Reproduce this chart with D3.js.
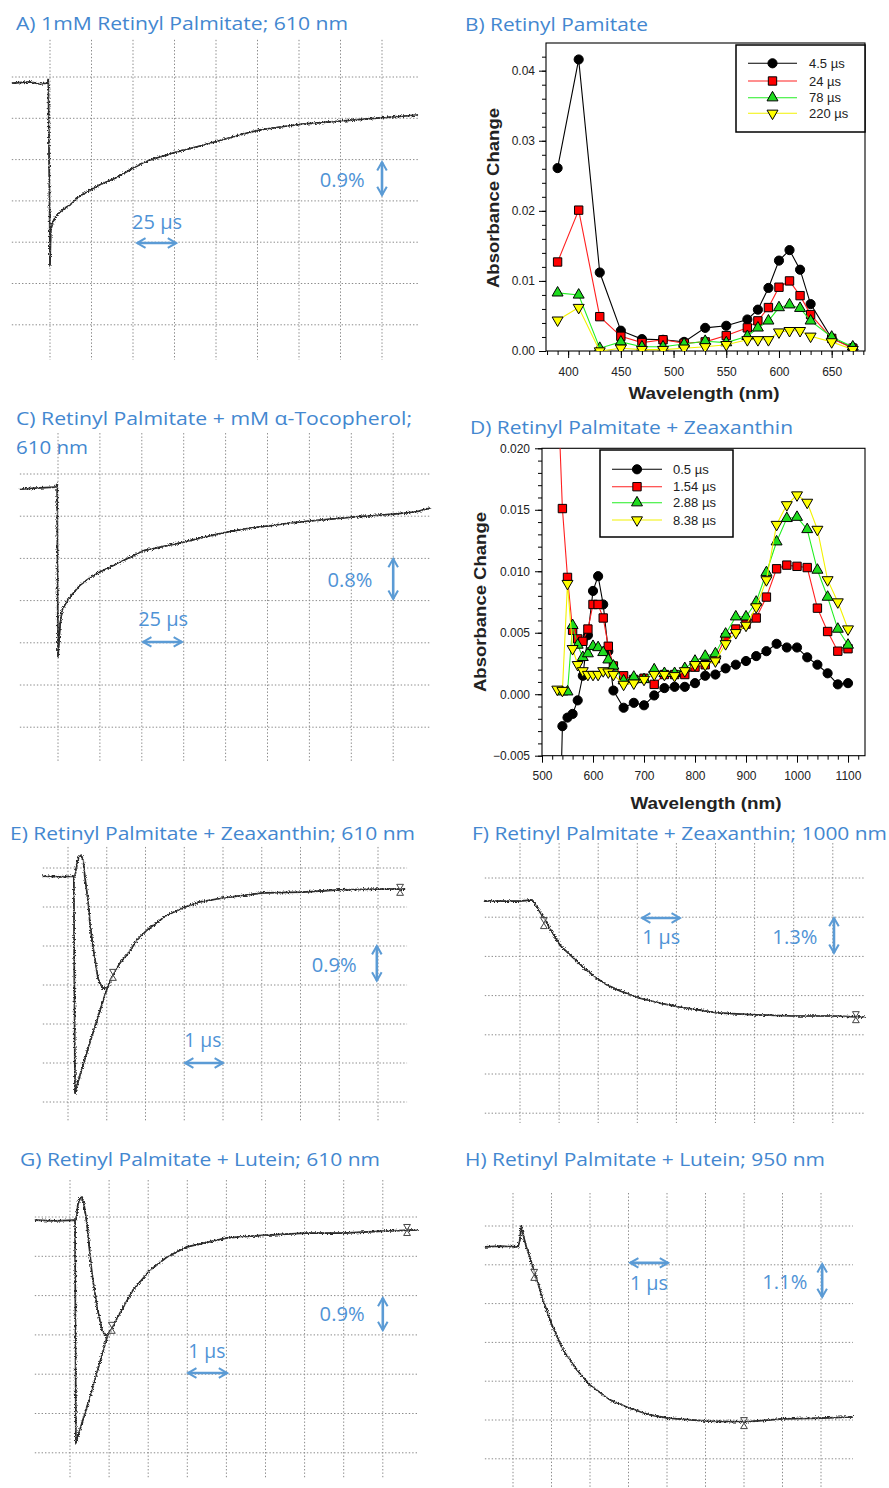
<!DOCTYPE html>
<html><head><meta charset="utf-8">
<script src="https://cdn.jsdelivr.net/npm/d3@7/dist/d3.min.js"></script>
<style>html,body{margin:0;padding:0;background:#fff;} svg{display:block;}</style>
</head><body>
<svg id="fig" width="889" height="1488"></svg>
<script>
// ================= DATA =================
// Panel B: Retinyl Palmitate spectra
const wlB  = [390,410,430,450,470,490,510,530,550,570,580,590,600,610,620,630,650,670];
const b45  = [0.0261,0.0416,0.0112,0.0029,0.0017,0.0016,0.0013,0.0033,0.0036,0.0045,0.0059,0.0090,0.0129,0.0144,0.0116,0.0067,0.0018,0.0005];
const b24  = [0.0127,0.0201,0.0049,0.0021,0.0012,0.0016,0.0011,0.0013,0.0022,0.0033,0.0043,0.0062,0.0091,0.0100,0.0079,0.0052,0.0018,0.0004];
const b78  = [0.0083,0.0080,0.0004,0.0013,0.0006,0.0006,0.0010,0.0014,0.0012,0.0021,0.0033,0.0043,0.0062,0.0066,0.0061,0.0043,0.0020,0.0006];
const b220 = [0.0044,0.0062,0.0000,0.0004,0.0002,0.0002,0.0004,0.0006,0.0009,0.0016,0.0016,0.0016,0.0027,0.0029,0.0029,0.0021,0.0013,0.0002];
const legendB = ["4.5 µs","24 µs","78 µs","220 µs"];
const yTicksB = [0,0.01,0.02,0.03,0.04];
const xTicksB = [400,450,500,550,600,650];

// Panel D: Retinyl Palmitate + Zeaxanthin spectra
const wlD  = [530,540,550,560,570,580,590,600,610,620,630,640,660,680,700,720,740,760,780,800,820,840,860,880,900,920,940,960,980,1000,1020,1040,1060,1080,1100];
const d05  = [-0.020,-0.0026,-0.0019,-0.0016,-0.0005,0.0015,0.0048,0.0084,0.0096,0.0073,0.0035,0.0003,-0.0011,-0.0007,-0.0009,-0.0001,0.0005,0.0006,0.0006,0.0009,0.0015,0.0016,0.0021,0.0024,0.0027,0.0031,0.0035,0.0041,0.0038,0.0038,0.0030,0.0024,0.0017,0.0008,0.0009];
const d154 = [0.026,0.0151,0.0095,0.0052,0.0045,0.0043,0.0053,0.0073,0.0073,0.0062,0.0039,0.0023,0.0015,0.0012,0.0013,0.0008,0.0016,0.0016,0.0016,0.0022,0.0024,0.0029,0.0046,0.0053,0.0057,0.0062,0.0079,0.0102,0.0105,0.0104,0.0103,0.0070,0.0051,0.0035,0.0037];
const d288 = [null,0.0002,0.0002,0.0056,0.0040,0.0030,0.0033,0.0039,0.0038,0.0034,0.0028,0.0023,0.0011,0.0014,0.0012,0.0020,0.0017,0.0017,0.0021,0.0027,0.0031,0.0033,0.0049,0.0063,0.0063,0.0075,0.0099,0.0124,0.0143,0.0144,0.0134,0.0101,0.0079,0.0053,0.0040];
const d838 = [0.0004,0.0003,0.0090,0.0037,0.0024,0.0019,0.0016,0.0016,0.0016,0.0019,0.0018,0.0016,0.0008,0.0009,0.0012,0.0016,0.0016,0.0015,0.0019,0.0024,0.0024,0.0027,0.0041,0.0050,0.0056,0.0071,0.0093,0.0138,0.0154,0.0162,0.0156,0.0134,0.0093,0.0075,0.0053];
const legendD = ["0.5 µs","1.54 µs","2.88 µs","8.38 µs"];
const yTicksD = [-0.005,0,0.005,0.010,0.015,0.020];
const xTicksD = [500,600,700,800,900,1000,1100];

// Oscilloscope traces (time and signal in grid divisions; signal measured downward from top grid line)
const traceA_t = [-0.92,-0.48,-0.24,-0.07,-0.04,-0.01,0.00,0.02,0.07,0.14,0.24,0.36,0.48,0.72,0.96,1.20,1.57,2.05,2.41,3.04,3.61,4.05,4.58,5.06,5.54,6.07,6.99,7.95,8.87];
const traceA_v = [0.15,0.12,0.17,0.15,0.05,3.22,4.55,3.70,3.51,3.37,3.27,3.17,3.10,2.88,2.74,2.61,2.45,2.18,2.01,1.82,1.67,1.55,1.40,1.28,1.21,1.14,1.07,0.99,0.92];
const traceC_t = [-0.91,-0.43,-0.07,-0.02,-0.01,0.00,0.05,0.10,0.19,0.29,0.53,0.76,1.00,1.48,2.03,2.55,3.03,3.51,4.06,4.58,5.04,5.54,6.06,7.02,8.00,8.52,8.88];
const traceC_v = [0.36,0.33,0.31,0.24,2.75,4.34,3.58,3.22,3.06,2.91,2.63,2.46,2.32,2.09,1.82,1.71,1.61,1.49,1.37,1.28,1.23,1.16,1.11,1.02,0.95,0.90,0.81];
const traceE1_t = [-0.65,-0.21,0.15,0.18,0.31,0.57,0.83,1.01,1.16,1.34,1.52,1.78,2.04,2.55,3.02,3.41,4.00,5.03,6.04,7.02,8.00,8.70];
const traceE1_v = [0.21,0.23,0.21,5.77,5.31,4.46,3.64,3.08,2.74,2.44,2.23,1.85,1.59,1.21,1.00,0.87,0.77,0.64,0.62,0.56,0.54,0.54];
const traceE2_t = [0.18,0.23,0.28,0.34,0.39,0.44,0.52,0.57,0.65,0.72,0.77,0.85,0.90,1.01];
const traceE2_v = [0.21,-0.10,-0.28,-0.33,-0.21,0.26,0.87,1.46,2.05,2.49,2.82,3.00,3.08,3.08];
const traceF_t = [-0.90,-0.51,0.00,0.31,0.38,0.51,0.64,0.82,1.02,1.28,1.61,1.92,2.23,2.56,3.04,3.58,4.07,4.60,5.06,6.01,6.98,8.01,8.82];
const traceF_v = [0.59,0.59,0.59,0.56,0.64,0.87,1.07,1.38,1.71,1.96,2.27,2.53,2.73,2.88,3.06,3.19,3.29,3.37,3.44,3.49,3.52,3.52,3.55];
const traceG1_t = [-0.90,-0.38,0.13,0.15,0.51,0.95,1.28,1.61,2.05,2.48,2.99,4.02,5.04,6.01,6.98,8.01,8.90];
const traceG1_v = [0.08,0.10,0.08,5.75,4.58,3.05,2.44,1.86,1.35,1.02,0.76,0.53,0.46,0.41,0.41,0.36,0.33];
const traceG2_t = [0.15,0.20,0.26,0.31,0.36,0.43,0.56,0.69,0.82,0.95];
const traceG2_v = [0.08,-0.31,-0.48,-0.51,-0.31,0.15,1.42,2.29,2.88,3.05];
const traceH_t = [-0.73,-0.34,0.13,0.18,0.21,0.26,0.34,0.39,0.57,0.78,1.01,1.30,1.66,2.00,2.52,3.01,3.56,4.03,5.04,6.03,6.99,8.00,8.83];
const traceH_v = [0.54,0.52,0.54,0.36,0.00,0.21,0.52,0.67,1.21,1.91,2.55,3.20,3.71,4.10,4.48,4.69,4.87,4.95,5.03,5.05,4.97,4.95,4.92];
// cursor markers
const cursE_t = [1.16,8.57], cursE_v = [2.74,0.56];
const cursF_t = [0.61,8.59], cursF_v = [1.15,3.55];
const cursG_t = [1.07,8.62], cursG_v = [2.82,0.33];
const cursH_t = [0.55,6.00], cursH_v = [1.26,5.08];

// ================= DRAWING =================
const svg = d3.select("#fig");
const defs = svg.append("defs");
const flt = defs.append("filter").attr("id","jit").attr("filterUnits","userSpaceOnUse")
  .attr("x",0).attr("y",0).attr("width",889).attr("height",1488);
flt.append("feTurbulence").attr("type","fractalNoise").attr("baseFrequency","0.85").attr("numOctaves",2).attr("seed",4).attr("result","n");
flt.append("feDisplacementMap").attr("in","SourceGraphic").attr("in2","n").attr("scale",4.2)
  .attr("xChannelSelector","R").attr("yChannelSelector","G");
const mk = defs.append("marker").attr("id","ah").attr("viewBox","0 0 10 10").attr("refX",8.5).attr("refY",5)
  .attr("markerWidth",4.6).attr("markerHeight",4.6).attr("orient","auto-start-reverse");
mk.append("path").attr("d","M1.5,1 L8.5,5 L1.5,9").attr("fill","none").attr("stroke","#5b9bd5").attr("stroke-width",1.7);

const TITLE_FONT = "'Open Sans', Lato, sans-serif";
const TITLE_COL = "#4387d0";
const ANN_COL = "#4f93d6";
const ARROW_COL = "#5b9bd5";
const AX_FONT = "'Liberation Sans', Arial, sans-serif";

function title(txt,x,y,w){
  svg.append("text").attr("x",x).attr("y",y).attr("font-family",TITLE_FONT).attr("font-size",19)
    .attr("fill",TITLE_COL).attr("textLength",w).attr("lengthAdjust","spacingAndGlyphs").text(txt);
}

// ---------- scope panels ----------
const scopes = [
 {titles:[["A) 1mM Retinyl Palmitate; 610 nm",16,30,332]], x0:50,dx:41.5,y0:77,dy:41.3, xl:-0.92,xr:8.87,yt:-0.90,yb:6.85,
  traces:[[traceA_t,traceA_v]], curs:null,
  h:{t1:2.1,t2:3.04,v:4.02,lab:"25 µs",lt:2.58,lv:3.51,lw:50}, vv:{t:8.0,v1:2.06,v2:2.86,lab:"0.9%",lt:7.04,lv:2.49,lw:45}},
 {titles:[["C) Retinyl Palmitate + mM α-Tocopherol;",16,425,396],["610 nm",16,454,72]], x0:58,dx:41.9,y0:474,dy:42.2, xl:-0.91,xr:8.88,yt:-0.97,yb:6.82,
  traces:[[traceC_t,traceC_v]], curs:null,
  h:{t1:2.03,t2:2.96,v:3.98,lab:"25 µs",lt:2.51,lv:3.44,lw:50}, vv:{t:8.0,v1:2.01,v2:2.96,lab:"0.8%",lt:6.97,lv:2.51,lw:45}},
 {titles:[["E) Retinyl Palmitate + Zeaxanthin; 610 nm",10,840,405]], x0:68,dx:38.75,y0:868,dy:39, xl:-0.65,xr:8.75,yt:-0.54,yb:6.51,
  traces:[[traceE1_t,traceE1_v],[traceE2_t,traceE2_v]], curs:[cursE_t,cursE_v],
  h:{t1:3.02,t2:4.0,v:5.0,lab:"1 µs",lt:3.48,lv:4.41,lw:37}, vv:{t:7.97,v1:2.0,v2:2.89,lab:"0.9%",lt:6.87,lv:2.49,lw:45}},
 {titles:[["F) Retinyl Palmitate + Zeaxanthin; 1000 nm",472,840,415]], x0:520,dx:39.1,y0:878,dy:39.2, xl:-0.90,xr:8.82,yt:-0.89,yb:6.25,
  traces:[[traceF_t,traceF_v]], curs:[cursF_t,cursF_v],
  h:{t1:3.12,t2:4.09,v:1.02,lab:"1 µs",lt:3.61,lv:1.5,lw:38}, vv:{t:8.03,v1:1.02,v2:1.91,lab:"1.3%",lt:7.03,lv:1.5,lw:45}},
 {titles:[["G) Retinyl Palmitate + Lutein; 610 nm",20,1166,360]], x0:70,dx:39.1,y0:1217,dy:39.3, xl:-0.90,xr:8.90,yt:-0.94,yb:6.64,
  traces:[[traceG1_t,traceG1_v],[traceG2_t,traceG2_v]], curs:[cursG_t,cursG_v],
  h:{t1:3.02,t2:4.02,v:3.97,lab:"1 µs",lt:3.5,lv:3.41,lw:37}, vv:{t:8.0,v1:2.06,v2:2.88,lab:"0.9%",lt:6.96,lv:2.47,lw:45}},
 {titles:[["H) Retinyl Palmitate + Lutein; 950 nm",465,1166,360]], x0:513,dx:38.5,y0:1226,dy:38.8, xl:-0.73,xr:8.83,yt:-0.85,yb:6.75,
  traces:[[traceH_t,traceH_v]], curs:[cursH_t,cursH_v],
  h:{t1:3.04,t2:4.03,v:0.95,lab:"1 µs",lt:3.53,lv:1.47,lw:38}, vv:{t:8.03,v1:0.98,v2:1.83,lab:"1.1%",lt:7.06,lv:1.44,lw:45}}
];

scopes.forEach(cfg=>{
  cfg.titles.forEach(t=>title(...t));
  const g = svg.append("g");
  const x = d3.scaleLinear().domain([0,8]).range([cfg.x0,cfg.x0+8*cfg.dx]);
  const y = d3.scaleLinear().domain([0,6]).range([cfg.y0,cfg.y0+6*cfg.dy]);
  const gridStyle = s=>s.attr("stroke","#8a8a8a").attr("stroke-width",1).attr("stroke-dasharray","1.4 2");
  g.selectAll(".vg").data(d3.range(9)).join("line")
    .attr("x1",d=>x(d)).attr("x2",d=>x(d)).attr("y1",y(cfg.yt)).attr("y2",y(cfg.yb)).call(gridStyle);
  g.selectAll(".hg").data(d3.range(7)).join("line")
    .attr("y1",d=>y(d)).attr("y2",d=>y(d)).attr("x1",x(cfg.xl)).attr("x2",x(cfg.xr)).call(gridStyle);
  const line = d3.line().x(d=>x(d[0])).y(d=>y(d[1]));
  cfg.traces.forEach(([ts,vs])=>{
    const pts = ts.map((t,i)=>[t,vs[i]]);
    g.append("path").attr("d",line(pts)).attr("fill","none").attr("stroke","#555").attr("stroke-width",1);
    g.append("path").attr("d",line(pts)).attr("fill","none").attr("stroke","#2a2a2a").attr("stroke-width",1.7)
      .attr("stroke-linejoin","round").attr("filter","url(#jit)");
  });
  if(cfg.curs){
    const [ct,cv] = cfg.curs;
    ct.forEach((t,i)=>{
      const cx=x(t), cy=y(cv[i]), s=3.4, h=5.5;
      g.append("path").attr("d",`M${cx-s},${cy-h}L${cx+s},${cy-h}L${cx},${cy}Z M${cx},${cy}L${cx+s},${cy+h}L${cx-s},${cy+h}Z`)
        .attr("fill","#fff").attr("fill-opacity",0.6).attr("stroke","#444").attr("stroke-width",1);
    });
  }
  // scale annotations
  const h = cfg.h, vv = cfg.vv;
  g.append("line").attr("x1",x(h.t1)).attr("x2",x(h.t2)).attr("y1",y(h.v)).attr("y2",y(h.v))
    .attr("stroke",ARROW_COL).attr("stroke-width",2.6).attr("marker-start","url(#ah)").attr("marker-end","url(#ah)");
  g.append("line").attr("x1",x(vv.t)).attr("x2",x(vv.t)).attr("y1",y(vv.v1)).attr("y2",y(vv.v2))
    .attr("stroke",ARROW_COL).attr("stroke-width",2.6).attr("marker-start","url(#ah)").attr("marker-end","url(#ah)");
  [[h.lab,h.lt,h.lv,h.lw],[vv.lab,vv.lt,vv.lv,vv.lw]].forEach(([lab,lt,lv,lw])=>{
    g.append("text").attr("x",x(lt)).attr("y",y(lv)+7).attr("text-anchor","middle")
      .attr("font-family",TITLE_FONT).attr("font-size",20).attr("fill",ANN_COL)
      .attr("textLength",lw).attr("lengthAdjust","spacingAndGlyphs").text(lab);
  });
});

// ---------- spectra panels ----------
function spectrum(o){
  title(...o.title);
  const g = svg.append("g");
  const x = d3.scaleLinear().domain(o.xd).range([o.L,o.R]);
  const y = d3.scaleLinear().domain(o.yd).range([o.B,o.T]);
  const cid = "clip"+o.id;
  defs.append("clipPath").attr("id",cid).append("rect").attr("x",o.L).attr("y",o.T).attr("width",o.R-o.L).attr("height",o.B-o.T);
  g.append("g").attr("transform",`translate(0,${o.B})`)
    .call(d3.axisBottom(x).tickValues(o.xTicks).tickSize(7).tickPadding(9).tickFormat(d3.format("d")));
  g.append("g").attr("transform",`translate(0,${o.B})`)
    .call(d3.axisBottom(x).tickValues(d3.range(o.xMinor[0],o.xMinor[1]+0.01,o.xMinor[2])).tickSize(4).tickFormat(""));
  g.append("g").attr("transform",`translate(${o.L},0)`)
    .call(d3.axisLeft(y).tickValues(o.yTicks).tickSize(7).tickPadding(o.yPad).tickFormat(d3.format(o.yFmt)));
  g.append("g").attr("transform",`translate(${o.L},0)`)
    .call(d3.axisLeft(y).tickValues(d3.range(o.yMinor[0],o.yMinor[1]+1e-9,o.yMinor[2])).tickSize(4).tickFormat(""));
  g.selectAll(".domain").remove();
  g.selectAll(".tick line").attr("stroke","#000").attr("stroke-width",1);
  g.selectAll(".tick text").attr("font-family",AX_FONT).attr("font-size",12).attr("fill","#222");
  g.append("rect").attr("x",o.L).attr("y",o.T).attr("width",o.R-o.L).attr("height",o.B-o.T)
    .attr("fill","none").attr("stroke","#000").attr("stroke-width",1.1);
  g.append("text").attr("transform",`translate(${o.ytx},${o.yty}) rotate(-90)`).attr("text-anchor","middle")
    .attr("font-family",AX_FONT).attr("font-weight","bold").attr("font-size",17).attr("fill","#222")
    .attr("textLength",180).attr("lengthAdjust","spacingAndGlyphs").text("Absorbance Change");
  g.append("text").attr("x",o.xtx).attr("y",o.xty).attr("text-anchor","middle")
    .attr("font-family",AX_FONT).attr("font-weight","bold").attr("font-size",17).attr("fill","#222")
    .attr("textLength",151).attr("lengthAdjust","spacingAndGlyphs").text("Wavelength (nm)");
  const plot = g.append("g").attr("clip-path",`url(#${cid})`);
  o.series.forEach(s=>{
    const pts = o.wl.map((w,i)=>[w,s.vals[i]]).filter(d=>d[1]!==null);
    plot.append("path").attr("d",d3.line().x(d=>x(d[0])).y(d=>y(d[1]))(pts))
      .attr("fill","none").attr("stroke",s.line).attr("stroke-width",1.1);
    plot.selectAll(null).data(pts).join("path")
      .attr("d",d3.symbol().type(s.sym).size(s.size)())
      .attr("transform",d=>`translate(${x(d[0])},${y(d[1])}) rotate(${s.rot})`)
      .attr("fill",s.fill).attr("stroke","#000").attr("stroke-width",1);
  });
  const lg = g.append("g");
  lg.append("rect").attr("x",o.lg.x).attr("y",o.lg.y).attr("width",o.lg.w).attr("height",o.lg.h)
    .attr("fill","#fff").attr("stroke","#000").attr("stroke-width",1.5);
  o.series.forEach((s,i)=>{
    const yy = o.lg.rows[i];
    lg.append("line").attr("x1",o.lg.l1).attr("x2",o.lg.l2).attr("y1",yy).attr("y2",yy).attr("stroke",s.line).attr("stroke-width",1.1);
    lg.append("path").attr("d",d3.symbol().type(s.sym).size(s.size)())
      .attr("transform",`translate(${(o.lg.l1+o.lg.l2)/2},${yy}) rotate(${s.rot})`)
      .attr("fill",s.fill).attr("stroke","#000").attr("stroke-width",1);
    lg.append("text").attr("x",o.lg.tx).attr("y",yy+4.5).attr("font-family",AX_FONT).attr("font-size",13)
      .attr("fill","#222").text(o.labels[i]);
  });
}

const styleSet = [
  {line:"#000000", fill:"#000000", sym:d3.symbolCircle, size:66, rot:0},
  {line:"#ff2020", fill:"#ff0000", sym:d3.symbolSquare, size:70, rot:0},
  {line:"#22ee22", fill:"#1fdc1f", sym:d3.symbolTriangle, size:52, rot:0},
  {line:"#f2f200", fill:"#ffff00", sym:d3.symbolTriangle, size:52, rot:180}
];

spectrum({id:"B", title:["B) Retinyl Pamitate",465,31,183],
  L:546,R:865,T:43,B:351, xd:[379,681.6], yd:[0,0.04395],
  xTicks:xTicksB, xMinor:[380,680,10], yTicks:yTicksB, yMinor:[0,0.042,0.002], yFmt:".2f", yPad:4,
  ytx:499,yty:198, xtx:704, xty:399,
  wl:wlB, series:[b45,b24,b78,b220].map((v,i)=>Object.assign({vals:v},styleSet[i])), labels:legendB,
  lg:{x:736,y:45,w:129,h:87,rows:[63.3,81,97.7,113.3],l1:748,l2:797,tx:809}});

spectrum({id:"D", title:["D) Retinyl Palmitate + Zeaxanthin",470,434,323],
  L:542,R:865,T:448.3,B:755.7, xd:[500,1133.3], yd:[-0.005,0.020],
  xTicks:xTicksD, xMinor:[500,1120,20], yTicks:yTicksD, yMinor:[-0.005,0.020,0.001], yFmt:".3f", yPad:5,
  ytx:486,yty:602, xtx:706, xty:809,
  wl:wlD, series:[d05,d154,d288,d838].map((v,i)=>Object.assign({vals:v},styleSet[i])), labels:legendD,
  lg:{x:600,y:450,w:133,h:87,rows:[469.3,486.7,502.7,520],l1:612,l2:662,tx:673}});
</script>
</body></html>
